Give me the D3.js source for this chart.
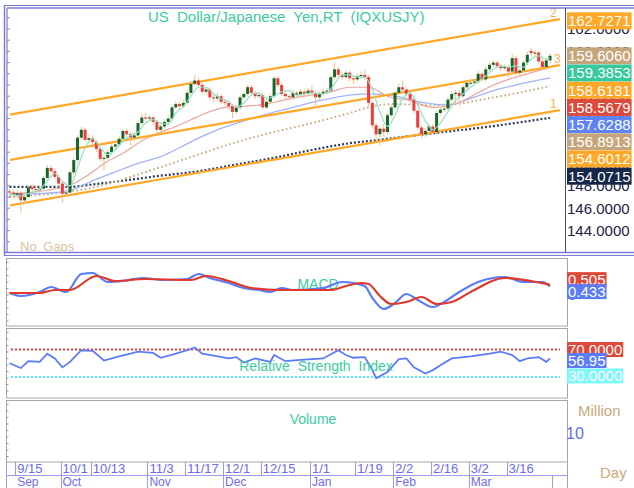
<!DOCTYPE html>
<html>
<head>
<meta charset="utf-8">
<script src="https://cdn.jsdelivr.net/npm/d3@7"></script>
<style>
body { margin: 0; background: #fff; }
svg { display: block; font-family: 'Liberation Sans', Arial, sans-serif; }
</style>
</head>
<body>
<script>
// trading days shown (forex, weekdays only)
const startDay = '2025-09-11';
const endDay = '2026-03-31';

const openPx = [147.50,147.40,147.20,147.35,146.70,147.00,147.85,147.70,147.60,147.75,
  148.70,149.60,149.30,148.80,148.20,147.30,147.40,149.20,150.30,152.30,
  153.00,152.10,152.25,151.90,151.30,150.40,150.50,151.00,151.50,151.70,
  152.20,152.90,152.60,152.30,152.50,153.60,154.10,154.00,154.10,153.70,
  153.00,153.30,153.70,154.00,155.00,155.30,155.10,155.40,156.30,157.10,
  157.40,157.00,156.40,156.60,155.90,155.80,156.00,155.50,155.40,155.10,
  154.60,155.00,155.90,156.20,156.80,156.30,156.00,156.10,155.00,155.50,
  156.00,157.60,157.00,156.20,156.00,155.90,156.30,156.10,156.40,156.20,
  156.50,156.30,155.90,156.20,156.40,156.50,157.70,158.40,157.90,157.70,
  158.10,157.60,157.50,157.80,157.90,157.70,155.40,153.40,152.60,153.10,
  152.80,154.30,155.00,156.30,156.80,156.60,156.20,155.70,154.70,153.20,
  152.60,152.90,153.30,152.80,154.50,154.80,154.90,155.70,156.20,156.30,
  156.00,156.80,157.20,157.20,157.30,158.00,157.50,158.40,158.80,159.00,
  158.70,158.50,158.60,158.20,159.40,158.10,158.30,159.00,160.05,159.85,
  159.90,159.10,158.60,159.20];
const highPx = [147.75,147.65,147.60,147.50,147.30,148.10,148.15,148.00,148.05,148.90,
  149.90,149.85,149.50,149.00,148.35,147.70,149.40,150.50,152.50,153.25,
  153.20,152.60,152.50,152.10,151.50,150.80,151.25,151.75,151.95,152.45,
  153.10,153.10,152.80,152.80,153.85,154.40,154.45,154.35,154.30,153.90,
  153.55,153.95,154.25,155.25,155.55,155.50,155.65,156.55,157.35,157.90,
  157.65,157.20,156.85,156.80,156.10,156.30,156.20,155.75,155.60,155.30,
  155.25,156.10,156.45,157.00,157.00,156.50,156.35,156.30,155.75,156.25,
  157.80,157.80,157.20,156.45,156.25,156.55,156.50,156.65,156.60,156.75,
  157.00,156.50,156.45,156.65,156.75,157.90,159.00,158.60,158.15,158.35,
  158.30,157.80,158.05,158.20,158.40,157.90,155.60,153.60,153.40,153.50,
  154.50,155.25,156.50,157.10,157.40,156.85,156.40,155.90,154.90,153.40,
  153.15,153.55,153.50,154.70,155.05,155.30,155.95,156.45,156.55,156.50,
  157.05,157.45,157.45,157.55,158.25,158.20,158.65,159.05,159.25,159.20,
  158.90,158.85,158.80,159.80,159.60,158.55,159.25,159.95,160.30,160.10,
  160.05,159.35,159.45,159.85];
const lowPx = [147.15,146.95,146.90,145.60,146.40,146.85,147.40,147.35,147.40,147.60,
  148.50,149.05,148.60,147.95,146.50,147.00,147.20,149.00,150.10,152.10,
  151.90,151.85,151.60,151.00,150.20,149.40,150.30,150.80,151.25,151.50,
  152.00,152.35,151.60,152.05,152.30,153.40,153.75,153.80,153.45,152.75,
  152.80,153.10,153.50,153.80,154.80,154.85,154.90,155.20,156.10,156.90,
  156.80,156.15,156.10,155.70,155.50,155.60,155.25,155.15,154.80,154.00,
  154.40,154.80,155.70,156.00,156.10,155.75,155.80,154.80,154.85,155.30,
  155.80,156.80,156.00,155.70,155.60,155.70,155.85,155.90,155.95,156.00,
  156.05,155.00,155.70,156.00,156.20,156.30,157.50,157.70,157.45,157.50,
  157.35,157.10,157.30,157.55,157.45,155.10,153.10,152.00,151.60,152.40,
  152.60,154.10,154.80,156.10,156.35,155.95,155.45,154.45,152.95,152.30,
  152.35,152.70,152.55,152.60,154.30,154.55,154.70,155.50,155.30,155.30,
  155.80,156.60,156.95,157.00,157.10,157.25,157.30,158.20,158.60,158.45,
  158.25,158.30,157.60,157.90,157.85,157.70,158.10,158.80,159.60,159.60,
  158.90,158.40,158.40,158.95];
const closePx = [147.40,147.20,147.35,146.70,147.00,147.85,147.70,147.60,147.75,148.70,
  149.60,149.30,148.80,148.20,147.30,147.40,149.20,150.30,152.30,153.00,
  152.10,152.25,151.90,151.30,150.40,150.50,151.00,151.50,151.70,152.20,
  152.90,152.60,152.30,152.50,153.60,154.10,154.00,154.10,153.70,153.00,
  153.30,153.70,154.00,155.00,155.30,155.10,155.40,156.30,157.10,157.40,
  157.00,156.40,156.60,155.90,155.80,156.00,155.50,155.40,155.10,154.60,
  155.00,155.90,156.20,156.80,156.30,156.00,156.10,155.00,155.50,156.00,
  157.60,157.00,156.20,156.00,155.90,156.30,156.10,156.40,156.20,156.50,
  156.30,155.90,156.20,156.40,156.50,157.70,158.40,157.90,157.70,158.10,
  157.60,157.50,157.80,157.90,157.70,155.40,153.40,152.60,153.10,152.80,
  154.30,155.00,156.30,156.80,156.60,156.20,155.70,154.70,153.20,152.60,
  152.90,153.30,152.80,154.50,154.80,154.90,155.70,156.20,156.30,156.00,
  156.80,157.20,157.20,157.30,158.00,157.50,158.40,158.80,159.00,158.70,
  158.50,158.60,158.20,159.40,158.10,158.30,159.00,159.70,159.85,159.90,
  159.10,158.60,159.20,159.61];

// moving averages: [day index, value]
const maTeal = [[0,147.3],[3,147.1],[5,147.3],[8,147.7],[10,148.4],[12,149.1],[14,148.4],[16,148.0],
  [18,149.6],[20,151.4],[22,152.2],[24,151.4],[26,150.8],[28,151.2],[30,152.0],[32,152.5],[34,152.8],
  [36,153.6],[38,153.9],[40,153.6],[42,153.5],[44,154.5],[46,155.1],[48,156.0],[50,156.8],[52,156.8],
  [54,156.2],[56,155.8],[58,155.5],[60,155.0],[62,155.4],[64,156.1],[66,156.3],[68,155.8],[70,156.0],
  [72,156.4],[74,156.5],[76,156.1],[78,156.2],[80,156.3],[82,156.2],[84,156.3],[86,157.1],[88,157.9],
  [90,157.9],[92,157.7],[94,157.7],[96,156.6],[98,154.6],[100,153.3],[102,154.3],[104,155.8],[106,156.3],
  [108,155.2],[110,153.8],[112,153.0],[114,153.6],[116,154.6],[118,155.6],[120,156.2],[122,156.8],
  [124,157.3],[126,157.8],[128,158.4],[130,158.7],[132,158.6],[134,158.7],[136,158.6],[138,159.3],
  [140,159.6],[142,159.3],[143,159.3853]];
const maRed = [[0,147.3],[10,147.6],[17,148.2],[21,149.0],[25,150.0],[30,150.9],[35,152.0],[40,152.8],
  [44,153.3],[48,153.9],[52,154.5],[57,155.0],[62,155.1],[68,155.3],[72,155.6],[78,156.0],[84,156.3],
  [90,156.8],[95,156.8],[100,156.0],[106,155.6],[112,155.0],[116,155.1],[120,155.6],[124,156.3],
  [128,157.0],[133,157.6],[138,158.1],[143,158.5679]];
const maBlue = [[0,147.2],[12,147.4],[16,147.6],[23,148.6],[30,149.5],[34,150.0],[40,150.6],[45,151.4],
  [49,152.1],[55,153.0],[62,153.8],[68,154.4],[75,155.0],[82,155.6],[90,156.1],[96,156.2],[102,156.0],
  [110,155.4],[116,155.2],[122,155.8],[128,156.5],[134,157.0],[143,157.6288]];
const maTan = [[0,147.0],[16,147.5],[24,148.0],[33,148.9],[43,150.0],[50,150.8],[60,151.9],[70,152.8],
  [80,153.6],[90,154.5],[96,155.1],[102,155.3],[110,155.2],[118,155.3],[125,155.7],[133,156.2],[143,156.8913]];
const maNavy = [[0,147.9],[15,147.9],[24,148.2],[40,148.9],[50,149.3],[60,149.9],[70,150.5],[80,151.2],
  [90,151.8],[98,152.1],[112,152.7],[125,153.2],[143,154.0715]];

// trend channel, value at first and last bar
const channelIdx = [0, 143];
const channelLower = [146.25, 154.6012];
const channelMid = [150.30, 158.6181];
const channelUpper = [154.35, 162.7271];

const priceTicks = [144, 146, 148, 150, 152, 154, 156, 158, 160, 162];
const lastClose = 159.6060;

// MACD and RSI: [day index, value]
const macdLine = [[0,0.10],[3,-0.05],[8,0.15],[11,0.40],[15,0.15],[19,1.05],[22,1.10],[26,0.65],[30,0.70],
  [35,0.85],[41,0.75],[47,0.80],[50,1.05],[53,0.85],[58,0.60],[62,0.35],[66,0.25],[69,0.15],[72,0.35],
  [75,0.25],[83,0.35],[88,0.65],[91,0.60],[94,0.45],[96,-0.15],[99,-0.70],[102,-0.40],[105,0.05],
  [108,-0.25],[112,-0.60],[115,-0.35],[119,0.15],[124,0.65],[131,0.90],[136,0.65],[141,0.65],[143,0.433]];
const macdSignal = [[0,0.10],[8,0.10],[12,0.25],[16,0.25],[23,0.95],[28,0.70],[36,0.80],[48,0.75],
  [52,0.95],[58,0.70],[64,0.35],[72,0.25],[85,0.25],[89,0.45],[93,0.60],[95,0.55],[98,-0.05],
  [101,-0.45],[105,-0.35],[109,-0.10],[113,-0.45],[117,-0.35],[122,0.15],[131,0.85],[138,0.70],[143,0.505]];
const rsiLine = [[0,50],[3,43],[5,53],[8,52],[10,64],[12,57],[14,44],[16,52],[19,69],[22,68],[25,54],
  [29,60],[32,64],[34,67],[38,65],[40,58],[44,64],[47,69],[49,73],[51,64],[54,61],[58,57],[60,59],
  [62,51],[65,57],[69,52],[70,62],[73,53],[77,55],[83,57],[87,69],[89,62],[91,58],[94,59],[96,40],
  [97,28],[100,37],[103,56],[105,57],[107,44],[110,35],[112,40],[114,47],[117,57],[122,60],[127,64],
  [130,67],[133,62],[135,53],[137,57],[140,59],[142,52],[143,56.95]];
const rsiLevels = [70, 30];

const dateTicks = ['2025-09-15', '2025-10-01', '2025-10-13', '2025-11-03', '2025-11-17', '2025-12-01',
  '2025-12-15', '2026-01-01', '2026-01-19', '2026-02-02', '2026-02-16', '2026-03-02', '2026-03-16'];
const monthStarts = ['2025-09-15', '2025-10-01', '2025-11-03', '2025-12-01', '2026-01-01', '2026-02-02',
  '2026-03-02', '2026-04-01'];
const monthNames = ['Sep', 'Oct', 'Nov', 'Dec', 'Jan', 'Feb', 'Mar', ''];


const W = 634;
const H = 488;
const plotL = 7;
const plotR = 565;

const parseDay = d3.timeParse('%Y-%m-%d');
const days = d3.timeDay.range(parseDay(startDay), d3.timeDay.offset(parseDay(endDay), 1))
  .filter(d => d.getDay() !== 0 && d.getDay() !== 6);
const dayIndex = s => d3.bisectLeft(days, parseDay(s));

const x = d3.scaleLinear().domain([0, days.length]).range([7.6, 551.9]);
const cx = i => x(i + 0.5);
const y = d3.scaleLinear().domain([142, 164]).range([253, 6.6]);
const yMacd = d3.scaleLinear().domain([-1.55, 1.85]).range([326, 258]);
const yRsi = d3.scaleLinear().domain([0, 100]).range([397.5, 329]);

const svg = d3.select('body').append('svg')
  .attr('width', W)
  .attr('height', H);

svg.append('rect').attr('width', W).attr('height', H).attr('fill', '#fff');

svg.append('clipPath').attr('id', 'clipMain')
  .append('rect').attr('x', plotL + 1).attr('y', 8).attr('width', plotR - plotL - 1).attr('height', 244);

// ---------- main price panel
const main = svg.append('g').attr('clip-path', 'url(#clipMain)');

const maLine = yy => d3.line()
  .x(d => cx(d[0]))
  .y(d => yy(d[1]))
  .curve(d3.curveMonotoneX);

main.append('path').datum(maNavy)
  .attr('d', maLine(y))
  .attr('fill', 'none').attr('stroke', '#2d3b5e').attr('stroke-width', 2.2).attr('stroke-dasharray', '2,2');
main.append('path').datum(maTan)
  .attr('d', maLine(y))
  .attr('fill', 'none').attr('stroke', '#c9aa7c').attr('stroke-width', 2).attr('stroke-dasharray', '1.6,2.6');
main.append('path').datum(maBlue)
  .attr('d', maLine(y))
  .attr('fill', 'none').attr('stroke', '#a3b4f7').attr('stroke-width', 1.3);
main.append('path').datum(maRed)
  .attr('d', maLine(y))
  .attr('fill', 'none').attr('stroke', '#eba3a0').attr('stroke-width', 1.2);

const channels = [channelLower, channelMid, channelUpper];
const channelNames = ['1', '3', '2'];
channels.forEach((vals, k) => {
  const cv = d3.scaleLinear().domain(channelIdx).range(vals);
  const a = 0.16;
  const b = 145.6;
  main.append('line')
    .attr('x1', cx(a)).attr('y1', y(cv(a)))
    .attr('x2', cx(b)).attr('y2', y(cv(b)))
    .attr('stroke', '#ffa726').attr('stroke-width', 2.2);
  svg.append('text')
    .attr('x', k === 1 ? 554 : 550).attr('y', y(cv(b)) - 2)
    .attr('font-size', 12).attr('fill', '#f3b24a')
    .text(channelNames[k]);
});

const candles = days.map((d, i) => ({
  i, o: openPx[i], h: highPx[i], l: lowPx[i], c: closePx[i],
}));

main.selectAll('.wick')
  .data(candles)
  .enter().append('line')
  .attr('class', 'wick')
  .attr('x1', d => cx(d.i)).attr('x2', d => cx(d.i))
  .attr('y1', d => y(d.h)).attr('y2', d => y(d.l))
  .attr('stroke', '#f6c285').attr('stroke-width', 1);

main.selectAll('.body')
  .data(candles)
  .enter().append('rect')
  .attr('class', 'body')
  .attr('x', d => cx(d.i) - 1.5)
  .attr('width', 3)
  .attr('y', d => y(Math.max(d.o, d.c)))
  .attr('height', d => Math.max(1, Math.abs(y(d.o) - y(d.c))))
  .attr('fill', d => (d.c >= d.o ? '#17672b' : '#f23b3b'));

main.append('path').datum(maTeal)
  .attr('d', maLine(y))
  .attr('fill', 'none').attr('stroke', '#8fe2c6').attr('stroke-width', 1.2);

// frame of main panel
const frame = svg.append('g').attr('stroke', '#7b7bd4').attr('fill', 'none');
frame.append('line').attr('x1', 4.5).attr('y1', 5).attr('x2', 4.5).attr('y2', 255.5).attr('stroke-width', 1.5);
frame.append('line').attr('x1', 7).attr('y1', 8).attr('x2', 7).attr('y2', 252).attr('stroke-width', 1.2);
frame.append('line').attr('x1', 4).attr('y1', 5.5).attr('x2', W).attr('y2', 5.5).attr('stroke-width', 1.2);
frame.append('line').attr('x1', 7).attr('y1', 8).attr('x2', W).attr('y2', 8).attr('stroke-width', 1.5);
frame.append('line').attr('x1', 4).attr('y1', 252.5).attr('x2', W).attr('y2', 252.5).attr('stroke-width', 1.5);
frame.append('line').attr('x1', 4).attr('y1', 255.5).attr('x2', W).attr('y2', 255.5).attr('stroke-width', 1.2);

svg.append('g').selectAll('line')
  .data(d3.range(143, 164))
  .enter().append('line')
  .attr('x1', 7).attr('x2', 10)
  .attr('y1', d => y(d)).attr('y2', d => y(d))
  .attr('stroke', '#6a6f88').attr('stroke-width', 0.8);

// price axis
const yAxis = svg.append('g')
  .attr('transform', `translate(${plotR},0)`)
  .call(d3.axisRight(y).tickValues(priceTicks).tickFormat(d3.format('.4f')).tickSize(0).tickPadding(2));
yAxis.select('.domain').attr('stroke', '#4a5070').attr('d', 'M0.5,8V252');
yAxis.selectAll('text').attr('font-family', "'Liberation Sans', Arial, sans-serif")
  .attr('font-size', 15).attr('fill', '#1d2242');

svg.append('text')
  .attr('x', 148).attr('y', 22)
  .attr('font-size', 15).attr('fill', '#3ccb9f').attr('word-spacing', 4)
  .text('US Dollar/Japanese Yen,RT (IQXUSJY)');
svg.append('text')
  .attr('x', 20).attr('y', 251)
  .attr('font-size', 13).attr('fill', '#d8c59c').attr('word-spacing', 3)
  .text('No Gaps');

// value tags on the right
function drawTags(tags, h, fontSize) {
  const g = svg.append('g');
  tags.forEach((t) => {
    const tg = g.append('g');
    const rect = tg.append('rect');
    const txt = tg.append('text')
      .attr('x', 568).attr('y', t.y).attr('dy', '0.36em')
      .attr('font-size', fontSize).attr('fill', '#fff')
      .text(t.label);
    const w = txt.node().getComputedTextLength();
    rect.attr('x', 567).attr('y', t.y - h / 2).attr('width', w + 2).attr('height', h).attr('fill', t.color);
  });
}

const channelTag = { value: channelUpper[1], color: '#ffa726' };
const priceTags = [
  { value: lastClose, color: '#c5a67c' },
  { value: maTeal[maTeal.length - 1][1], color: '#35c99b' },
  { value: channelMid[1], color: '#ffa726' },
  { value: maRed[maRed.length - 1][1], color: '#dc4a3c' },
  { value: maBlue[maBlue.length - 1][1], color: '#5e83f2' },
  { value: maTan[maTan.length - 1][1], color: '#c5a67c' },
  { value: channelLower[1], color: '#ffa726' },
  { value: maNavy[maNavy.length - 1][1], color: '#15284a' },
].sort((a, b) => b.value - a.value);

let prevY = -Infinity;
priceTags.forEach((t) => {
  t.y = Math.max(y(t.value), prevY + 17.2);
  prevY = t.y;
});
channelTag.y = y(channelTag.value);
const f4 = d3.format('.4f');
drawTags([channelTag, ...priceTags].map(t => ({ ...t, label: f4(t.value) })), 17, 15);

// ---------- sub panels
const panels = [[258.5, 326], [328.5, 398], [400.5, 462]];
panels.forEach(([top, bottom]) => {
  svg.append('rect')
    .attr('x', 6.5).attr('y', top).attr('width', 561).attr('height', bottom - top)
    .attr('fill', 'none').attr('stroke', '#a6a6a6');
  svg.append('g').selectAll('line')
    .data(d3.range(top + 4, bottom - 2, 6.5))
    .enter().append('line')
    .attr('x1', 6.5).attr('x2', 8.5)
    .attr('y1', d => d).attr('y2', d => d)
    .attr('stroke', '#888').attr('stroke-width', 0.8);
});

const subLine = (yy, curve) => d3.line()
  .x(d => cx(d[0]))
  .y(d => yy(d[1]))
  .curve(curve);

// MACD
svg.append('text')
  .attr('x', 318).attr('y', 289).attr('text-anchor', 'middle')
  .attr('font-size', 14).attr('fill', '#3ccb9f')
  .text('MACD');
svg.append('path').datum(macdLine)
  .attr('d', subLine(yMacd, d3.curveMonotoneX))
  .attr('fill', 'none').attr('stroke', '#5a7cf6').attr('stroke-width', 2.2);
svg.append('path').datum(macdSignal)
  .attr('d', subLine(yMacd, d3.curveMonotoneX))
  .attr('fill', 'none').attr('stroke', '#e0392b').attr('stroke-width', 2.2);

svg.append('text')
  .attr('x', 568).attr('y', yMacd(0)).attr('dy', '0.36em')
  .attr('font-size', 15).attr('fill', '#5a7cf6')
  .text('0');

const macdLast = macdLine[macdLine.length - 1][1];
const sigLast = macdSignal[macdSignal.length - 1][1];
const macdMid = (yMacd(macdLast) + yMacd(sigLast)) / 2;
drawTags([
  { label: d3.format('.3f')(sigLast), color: '#e0483a', y: macdMid - 6 },
  { label: d3.format('.3f')(macdLast), color: '#5b7cf5', y: macdMid + 6 },
], 15, 15);

// RSI
svg.append('g').selectAll('line')
  .data(rsiLevels)
  .enter().append('line')
  .attr('x1', 11).attr('x2', 560)
  .attr('y1', d => yRsi(d)).attr('y2', d => yRsi(d))
  .attr('stroke', d => (d > 50 ? '#ea4036' : '#4eeefc'))
  .attr('stroke-width', 2).attr('stroke-dasharray', '2,2');
svg.append('path').datum(rsiLine)
  .attr('d', subLine(yRsi, d3.curveLinear))
  .attr('fill', 'none').attr('stroke', '#5a7cf6').attr('stroke-width', 1.8);
svg.append('text')
  .attr('x', 316).attr('y', 371).attr('text-anchor', 'middle')
  .attr('font-size', 14).attr('fill', '#3ccb9f').attr('word-spacing', 4)
  .text('Relative Strength Index');

drawTags([
  { label: f4(rsiLevels[0]), color: '#e0483a', y: yRsi(rsiLevels[0]) },
  { label: d3.format('.2f')(rsiLine[rsiLine.length - 1][1]), color: '#5b7cf5', y: yRsi(rsiLine[rsiLine.length - 1][1]) + 2 },
  { label: f4(rsiLevels[1]), color: '#7ef8fb', y: yRsi(rsiLevels[1]) - 1 },
], 15, 15);

// Volume (empty)
svg.append('text')
  .attr('x', 313).attr('y', 424).attr('text-anchor', 'middle')
  .attr('font-size', 14).attr('fill', '#3ccb9f')
  .text('Volume');
svg.append('text')
  .attr('x', 578).attr('y', 416)
  .attr('font-size', 15).attr('fill', '#c9ab7d')
  .text('Million');
svg.append('text')
  .attr('x', 566).attr('y', 439)
  .attr('font-size', 16).attr('fill', '#5b6cf0')
  .text('10');

// ---------- date axis
const axisG = svg.append('g').attr('stroke', '#9b9bf2');
axisG.append('line').attr('x1', 6).attr('x2', 567.5).attr('y1', 475.5).attr('y2', 475.5);
axisG.append('line').attr('x1', 567.5).attr('x2', 567.5).attr('y1', 462).attr('y2', H);
axisG.append('line').attr('x1', 6.5).attr('x2', 6.5).attr('y1', 462).attr('y2', H);

svg.append('g').selectAll('line')
  .data(dateTicks)
  .enter().append('line')
  .attr('x1', d => Math.round(x(dayIndex(d))) + 0.5)
  .attr('x2', d => Math.round(x(dayIndex(d))) + 0.5)
  .attr('y1', 462).attr('y2', 475)
  .attr('stroke', '#9b9bf2');
svg.append('g').selectAll('text')
  .data(dateTicks)
  .enter().append('text')
  .attr('x', d => x(dayIndex(d)) + 2)
  .attr('y', 473)
  .attr('font-size', 13).attr('fill', '#6c6cec')
  .text(d => d3.timeFormat('%-m/%-d')(parseDay(d)));

svg.append('g').selectAll('line')
  .data(monthStarts.slice(1))
  .enter().append('line')
  .attr('x1', d => Math.round(x(dayIndex(d))) + 0.5)
  .attr('x2', d => Math.round(x(dayIndex(d))) + 0.5)
  .attr('y1', 475).attr('y2', H)
  .attr('stroke', '#9b9bf2');
svg.append('g').selectAll('text')
  .data(monthStarts)
  .enter().append('text')
  .attr('x', d => x(dayIndex(d)) + 2)
  .attr('y', 486)
  .attr('font-size', 12).attr('fill', '#6c6cec')
  .text((d, i) => monthNames[i]);

svg.append('text')
  .attr('x', 600).attr('y', 478)
  .attr('font-size', 15).attr('fill', '#c9ab7d')
  .text('Day');
</script>
</body>
</html>
